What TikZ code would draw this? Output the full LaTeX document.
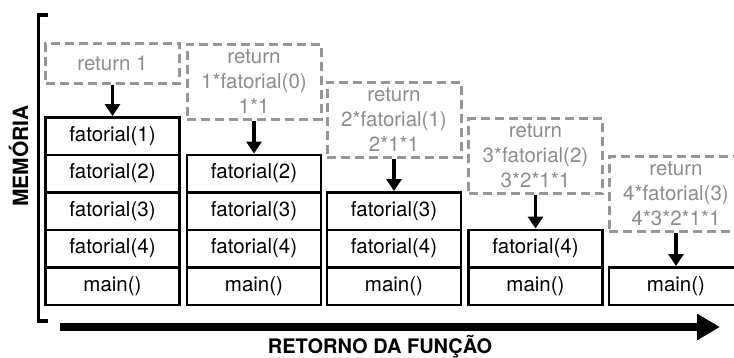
\documentclass[tikz,border=0pt]{standalone}
\usepackage{fontspec}
\setmainfont{TeX Gyre Heros}
\usetikzlibrary{arrows.meta}

\definecolor{retgray}{RGB}{140,140,140}
\definecolor{dashgray}{RGB}{150,150,150}

\tikzset{
  frame/.style={draw, line width=2.5pt, minimum width=134pt, minimum height=37.5pt, inner sep=0pt, font=\fontsize{20.5}{25}\selectfont},
  retbox/.style={draw=dashgray, line width=3pt, dash pattern=on 9pt off 5pt, minimum width=134pt, minimum height=75pt, inner sep=0pt, text=retgray, align=center, font=\fontsize{20.5}{25}\selectfont},
  push/.style={line width=3.5pt, -{Triangle[length=12pt,width=15pt]}},
}

\begin{document}
\begin{tikzpicture}[x=1pt, y=-1pt]
\useasboundingbox (0,0) rectangle (734,357);

\draw[line width=3.5pt] (48,15) -- (38.5,15) -- (38.5,321) -- (48,321);
\node[rotate=90, anchor=base, font=\fontsize{21}{25}\bfseries] (mem) at (28,156) {MEMÓRIA};

% pilha 1
\node[retbox, minimum height=40pt] (r1) at (112.5,63) {return 1};
\node[frame] (f11) at (112.5,136) {fatorial(1)};
\node[frame] (f12) at (112.5,173.5) {fatorial(2)};
\node[frame] (f13) at (112.5,211) {fatorial(3)};
\node[frame] (f14) at (112.5,248.5) {fatorial(4)};
\node[frame] (m1) at (112.5,286) {main()};
\draw[push] (r1) -- (f11);

% pilha 2
\node[retbox] (r2) at (254,81.5) {return\\1*fatorial(0)\\1*1};
\node[frame] (f22) at (254,173.5) {fatorial(2)};
\node[frame] (f23) at (254,211) {fatorial(3)};
\node[frame] (f24) at (254,248.5) {fatorial(4)};
\node[frame] (m2) at (254,286) {main()};
\draw[push] (r2) -- (f22);

% pilha 3
\node[retbox] (r3) at (394,119.5) {return\\2*fatorial(1)\\2*1*1};
\node[frame] (f33) at (394,211) {fatorial(3)};
\node[frame] (f34) at (394,248.5) {fatorial(4)};
\node[frame] (m3) at (394,286) {main()};
\draw[push] (r3) -- (f33);

% pilha 4
\node[retbox] (r4) at (535.5,156) {return\\3*fatorial(2)\\3*2*1*1};
\node[frame] (f44) at (535.5,248.5) {fatorial(4)};
\node[frame] (m4) at (535.5,286) {main()};
\draw[push] (r4) -- (f44);

% pilha 5
\node[retbox] (r5) at (676,194) {return\\4*fatorial(3)\\4*3*2*1*1};
\node[frame] (m5) at (676,286) {main()};
\draw[push] (r5) -- (m5);

\coordinate (t0) at (60,327);
\coordinate (t1) at (720,327);
\draw[line width=8pt, -{Triangle[length=23pt,width=25pt]}] (t0) -- (t1);
\node[anchor=base, font=\fontsize{20}{24}\bfseries] (ret) at (380,353) {RETORNO DA FUNÇÃO};

\end{tikzpicture}
\end{document}
